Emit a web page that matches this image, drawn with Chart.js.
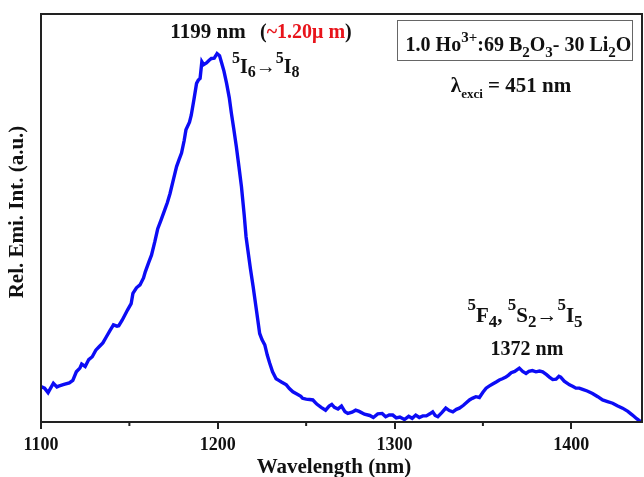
<!DOCTYPE html>
<html>
<head>
<meta charset="utf-8">
<script src="https://cdn.jsdelivr.net/npm/chart.js@4.4.0/dist/chart.umd.min.js"></script>
<style>
  body { margin: 0; background: #fff; }
  #wrap { width: 644px; height: 477px; }
</style>
</head>
<body>
<div id="wrap"><canvas id="chart" width="644" height="477"></canvas></div>
<script>
// emission spectrum (x in nm, y in rel. units 0-100)
const wavelengths = [
  1100, 1102, 1104, 1107, 1109, 1110, 1113, 1116, 1118, 1120, 1122, 1123, 1125, 1127, 1129,
  1131, 1133, 1135, 1137, 1139, 1141, 1143, 1144, 1146, 1149, 1151, 1152, 1154, 1156, 1158,
  1159, 1161, 1162.5, 1164.4, 1166, 1168, 1170, 1171.5, 1173, 1175, 1176.7, 1178, 1179.5, 1181, 1182,
  1184, 1185, 1186.5, 1188, 1189, 1190, 1191, 1192, 1193.6, 1195, 1196.4, 1198, 1199.6, 1201, 1202,
  1203.5, 1205, 1206.5, 1207.7, 1209, 1210.5, 1212, 1213.4, 1215, 1216, 1217, 1218.5, 1220, 1222, 1223.7,
  1225, 1226.6, 1228, 1229.4, 1231, 1233, 1234.5, 1236, 1238.8, 1240.5, 1242.5, 1245, 1247, 1248, 1250,
  1252, 1253.8, 1256, 1258.5, 1261, 1263, 1264.5, 1266, 1268, 1270, 1272, 1273.6, 1276, 1278, 1280,
  1283, 1286, 1288, 1290.5, 1293, 1295, 1297, 1299, 1301, 1303, 1305.6, 1308, 1310, 1312, 1314,
  1316, 1318, 1320, 1321.6, 1323, 1324.5, 1327, 1329, 1331, 1333, 1335, 1336.7, 1339, 1342.4, 1344,
  1346, 1348, 1350, 1351.8, 1353.5, 1355.5, 1357.5, 1359.3, 1361, 1363, 1364.5, 1366, 1368, 1370.6, 1372.5,
  1374.4, 1376, 1378, 1380, 1382, 1383.8, 1386, 1387.6, 1389.5, 1391.4, 1393, 1394, 1396, 1399, 1401,
  1402.6, 1404.5, 1406.4, 1409, 1412, 1415, 1417.7, 1420.5, 1423.4, 1426, 1429, 1432, 1434.6, 1437, 1439.5
];
const intensity = [
  8.7, 8.3, 7.2, 9.5, 8.6, 8.8, 9.2, 9.6, 10.2, 12.3, 13.2, 14.2, 13.6, 15.3, 16.0,
  17.6, 18.5, 19.4, 20.9, 22.4, 23.8, 23.5, 23.6, 25.0, 27.5, 29.0, 31.5, 32.9, 33.6, 35.3,
  36.8, 39.2, 40.9, 44.2, 47.3, 49.6, 52.0, 53.8, 56.0, 59.6, 62.6, 64.2, 65.9, 69.0, 71.6,
  73.5, 75.2, 79.0, 83.0, 83.8, 84.2, 88.3, 87.6, 88.0, 88.6, 89.1, 89.2, 90.3, 89.8, 88.3,
  86.0, 83.0, 79.5, 75.7, 72.0, 67.5, 62.5, 57.7, 50.5, 45.4, 42.2, 37.5, 33.2, 27.0, 21.7,
  20.2, 18.9, 16.4, 14.4, 12.3, 10.6, 10.2, 9.8, 9.1, 8.2, 7.4, 6.8, 6.3, 5.8, 5.6,
  5.5, 5.4, 4.4, 3.6, 2.9, 3.9, 4.3, 3.6, 3.2, 3.9, 2.5, 2.1, 2.4, 2.9, 2.6,
  1.9, 1.6, 1.1, 2.0, 2.1, 1.3, 1.7, 1.7, 1.0, 1.2, 0.6, 1.4, 0.9, 1.7, 1.1,
  1.5, 1.5, 2.0, 2.5, 1.6, 1.3, 2.4, 3.4, 2.8, 2.5, 3.1, 3.4, 4.1, 5.4, 5.8,
  6.2, 6.0, 7.3, 8.3, 8.8, 9.3, 9.8, 10.3, 10.6, 11.0, 11.5, 12.1, 12.4, 13.2, 12.4,
  11.9, 12.4, 12.6, 12.3, 12.5, 12.3, 11.6, 11.0, 10.4, 10.5, 11.2, 11.0, 10.0, 9.1, 8.7,
  8.3, 8.3, 8.0, 7.6, 7.0, 6.2, 5.4, 5.0, 4.6, 4.0, 3.4, 2.6, 1.7, 0.8, 0.0
];
const xMin = 1100;
const xMax = 1440;
const majorTicks = [1100, 1200, 1300, 1400];

const FONT = "'Liberation Serif', 'Times New Roman', serif";

// draw a line of text with sub/superscript parts: [text, kind, color]
function drawRich(ctx, x, y, parts, size, align, opt = {}) {
  const small = Math.round(size * (opt.ratio || 0.75));
  const supDy = -size * (opt.sup || 0.45);
  const subDy = size * (opt.sub || 0.3);
  const widths = parts.map(p => {
    ctx.font = `bold ${p[1] === "n" ? size : small}px ${FONT}`;
    return ctx.measureText(p[0]).width;
  });
  const total = widths.reduce((a, b) => a + b, 0);
  let cx = align === "center" ? x - total / 2 : x;
  ctx.textBaseline = "alphabetic";
  ctx.textAlign = "left";
  parts.forEach((p, i) => {
    const kind = p[1];
    ctx.font = `bold ${kind === "n" ? size : small}px ${FONT}`;
    ctx.fillStyle = p[2] || "#111";
    let dy = 0;
    if (kind === "sup") dy = supDy;
    if (kind === "sub") dy = subDy;
    ctx.fillText(p[0], cx, y + dy);
    cx += widths[i];
  });
  return total;
}

const decorPlugin = {
  id: "decor",
  afterDraw(chart) {
    const { ctx, chartArea: a } = chart;
    const xs = chart.scales.x;
    ctx.save();

    // frame
    ctx.strokeStyle = "#222";
    ctx.lineWidth = 2;
    ctx.strokeRect(a.left, a.top, a.right - a.left, a.bottom - a.top);

    // minor ticks (shorter)
    for (let v = xMin + 50; v < xMax; v += 100) {
      const px = xs.getPixelForValue(v);
      ctx.beginPath();
      ctx.moveTo(px, a.bottom);
      ctx.lineTo(px, a.bottom + 4);
      ctx.stroke();
    }

    // axis titles
    ctx.fillStyle = "#111";
    ctx.font = `bold 21px ${FONT}`;
    ctx.textAlign = "center";
    ctx.textBaseline = "middle";
    ctx.fillText("Wavelength (nm)", 334, 468);
    ctx.save();
    ctx.translate(18, 212);
    ctx.rotate(-Math.PI / 2);
    ctx.fillText("Rel. Emi. Int. (a.u.)", 0, 0);
    ctx.restore();

    // peak labels
    drawRich(ctx, 208, 38, [["1199 nm", "n"]], 21, "center");
    drawRich(ctx, 260, 38, [["(", "n"], ["~1.20\u03bc m", "n", "#e8141b"], [")", "n"]], 20, "left");
    drawRich(ctx, 232, 73, [
      ["5", "sup"], ["I", "n"], ["6", "sub"], ["\u2192", "n"], ["5", "sup"], ["I", "n"], ["8", "sub"]
    ], 20, "left", { ratio: 0.82, sup: 0.52, sub: 0.22 });

    drawRich(ctx, 525, 322, [
      ["5", "sup"], ["F", "n"], ["4", "sub"], [", ", "n"], ["5", "sup"], ["S", "n"], ["2", "sub"],
      ["\u2192", "n"], ["5", "sup"], ["I", "n"], ["5", "sub"]
    ], 21, "center", { ratio: 0.8, sup: 0.55, sub: 0.25 });
    drawRich(ctx, 527, 355, [["1372 nm", "n"]], 20, "center");

    // composition box
    ctx.strokeStyle = "#666";
    ctx.lineWidth = 1;
    ctx.strokeRect(397.5, 20.5, 235, 40);
    drawRich(ctx, 518.5, 51, [
      ["1.0 Ho", "n"], ["3+", "sup"], [":69 B", "n"], ["2", "sub"], ["O", "n"], ["3", "sub"],
      ["- 30 Li", "n"], ["2", "sub"], ["O", "n"]
    ], 20, "center", { ratio: 0.75, sup: 0.45, sub: 0.3 });

    drawRich(ctx, 511, 92, [["\u03bb", "n"], ["exci", "sub"], [" = 451 nm", "n"]], 21, "center",
      { ratio: 0.6, sub: 0.3 });

    ctx.restore();
  }
};

const points = wavelengths.map((w, i) => ({ x: w, y: intensity[i] }));

new Chart(document.getElementById("chart"), {
  type: "line",
  data: {
    datasets: [{
      data: points,
      borderColor: "rgb(12,12,245)",
      borderWidth: 3.4,
      pointRadius: 0,
      tension: 0,
      fill: false
    }]
  },
  options: {
    responsive: false,
    animation: false,
    devicePixelRatio: 1,
    layout: { padding: { left: 41, top: 14, right: 2, bottom: 0 } },
    scales: {
      x: {
        type: "linear",
        min: xMin,
        max: xMax,
        afterBuildTicks: axis => { axis.ticks = majorTicks.map(v => ({ value: v })); },
        afterFit: axis => { axis.height = 55; },
        ticks: {
          color: "#111",
          padding: 6,
          maxRotation: 0,
          autoSkip: false,
          callback: v => String(v),
          font: { family: FONT, size: 18, weight: "bold" }
        },
        grid: { drawOnChartArea: false, tickLength: 7, color: "#222", lineWidth: 2 },
        border: { display: true, color: "#222", width: 2 }
      },
      y: { display: false, min: 0, max: 100 }
    },
    plugins: { legend: { display: false }, tooltip: { enabled: false } }
  },
  plugins: [decorPlugin]
});
</script>
</body>
</html>
